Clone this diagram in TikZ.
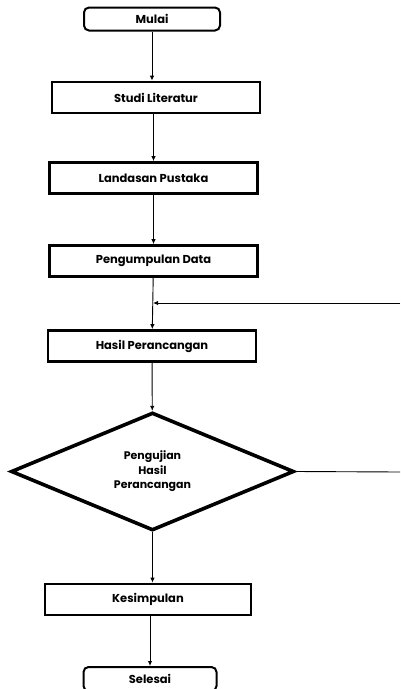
\documentclass[tikz,border=0pt]{standalone}
\usepackage{fontspec}
\setmainfont{Poppins}
\usetikzlibrary{arrows.meta}
\usetikzlibrary{shapes.geometric}
\tikzset{>={Latex[length=5pt,width=4.5pt]}}
\tikzstyle{prosesbox}=[draw,line width=2.8pt,minimum width=208pt,minimum height=31pt,inner sep=0pt,font=\fontsize{11.5}{14}\selectfont\bfseries]
\tikzstyle{terminal}=[draw,line width=2pt,rounded corners=5pt,minimum width=136pt,minimum height=23pt,inner sep=0pt,font=\fontsize{11.5}{14}\selectfont\bfseries]
\tikzstyle{keputusan}=[draw,diamond,line width=3.6pt,minimum width=283pt,minimum height=115pt,inner sep=0pt,align=center,font=\fontsize{11}{14.5}\selectfont\bfseries]
\tikzstyle{panah}=[->,line width=0.9pt]

\begin{document}
\begin{tikzpicture}[x=1pt,y=-1pt]
    \clip (0,0) rectangle (400,689);
    \node[terminal] (mulai) at (152,19) {Mulai};
    \node[prosesbox] (studi) at (156,97.5) {Studi Literatur};
    \node[prosesbox] (landasan) at (153.5,178) {Landasan Pustaka};
    \node[prosesbox] (data) at (153.5,261) {Pengumpulan Data};
    \node[prosesbox] (hasil) at (152,346) {Hasil Perancangan};
    \node[keputusan] (uji) at (152.5,471.5) {Pengujian\\Hasil\\Perancangan};
    \node[prosesbox,minimum width=206pt] (simpul) at (148,599.5) {Kesimpulan};
    \node[terminal,minimum width=133pt,minimum height=24pt] (selesai) at (150,679) {Selesai};

    \draw[panah] (mulai) -- (mulai|-studi.north);
    \draw[panah] (studi.south-|landasan) -- (landasan);
    \draw[panah] (landasan) -- (data);
    \draw[panah] (data) -- (hasil);
    \draw[panah] (hasil) -- (uji);
    \draw[panah] (uji) -- (uji|-simpul.north);
    \draw[panah] (simpul.south-|selesai) -- (selesai);

    % balik ke hasil perancangan
    \coordinate (j) at (153,303);
    \coordinate (kanan1) at (400,303);
    \coordinate (kanan2) at (400,472);
    \draw[panah] (kanan1) -- (j);
    \draw[line width=0.9pt] (uji.east) -- (kanan2);
\end{tikzpicture}
\end{document}
